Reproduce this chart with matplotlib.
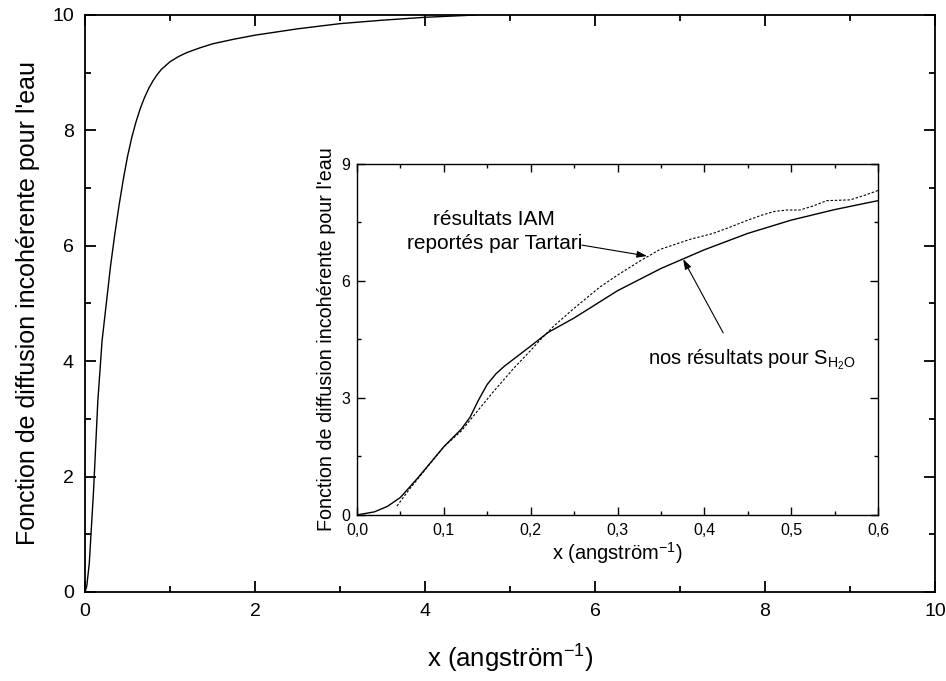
import matplotlib

matplotlib.use("Agg")
import matplotlib.pyplot as plt  # noqa: E402
from matplotlib.ticker import MultipleLocator, FuncFormatter  # noqa: E402

plt.rcParams["font.family"] = ["Liberation Sans", "DejaVu Sans"]
plt.rcParams["mathtext.fontset"] = "custom"
plt.rcParams["mathtext.rm"] = "Liberation Sans"
plt.rcParams["mathtext.it"] = "Liberation Sans"

# main curve: incoherent scattering function of water, 0..10 angstrom^-1
main_x = [0.0, 0.02, 0.05, 0.1, 0.15, 0.2, 0.25, 0.3, 0.35, 0.4, 0.45, 0.5, 0.55,
          0.6, 0.65, 0.7, 0.75, 0.8, 0.85, 0.9, 1.0, 1.1, 1.2, 1.35, 1.5, 1.75,
          2.0, 2.5, 3.0, 3.5, 4.0, 4.6]
main_y = [0.0, 0.1, 0.5, 1.75, 3.3, 4.35, 5.0, 5.65, 6.2, 6.7, 7.15, 7.55, 7.88,
          8.15, 8.38, 8.57, 8.73, 8.86, 8.97, 9.06, 9.19, 9.28, 9.35, 9.43, 9.5, 9.58,
          9.65, 9.76, 9.85, 9.91, 9.96, 10.0]

# inset: our results (solid)
ours_x = [0.0, 0.02, 0.035, 0.05, 0.07, 0.1, 0.12, 0.13, 0.14, 0.15, 0.16, 0.17,
          0.2, 0.22, 0.25, 0.3, 0.35, 0.4, 0.45, 0.5, 0.55, 0.6]
ours_y = [0.0, 0.08, 0.22, 0.45, 0.95, 1.75, 2.2, 2.5, 2.95, 3.35, 3.62, 3.82,
          4.33, 4.68, 5.05, 5.75, 6.32, 6.8, 7.22, 7.56, 7.83, 8.06]

# inset: IAM results reported by Tartari (dashed)
iam_x = [0.046, 0.06, 0.08, 0.1, 0.12, 0.14, 0.157, 0.18, 0.2, 0.211, 0.226, 0.25,
         0.28, 0.3, 0.325, 0.349, 0.384, 0.41, 0.426, 0.449, 0.465, 0.48, 0.495,
         0.51, 0.525, 0.541, 0.568, 0.585, 0.6]
iam_y = [0.23, 0.65, 1.2, 1.75, 2.15, 2.7, 3.16, 3.75, 4.22, 4.49, 4.83, 5.3,
         5.85, 6.15, 6.5, 6.81, 7.07, 7.22, 7.35, 7.55, 7.68, 7.78, 7.82,
         7.82, 7.92, 8.06, 8.08, 8.2, 8.32]

YLABEL = "Fonction de diffusion incohérente pour l'eau"
XLABEL = "x (angström$^{-1}$)"


def style_axes(ax, major, minor, width):
    for side in ax.spines.values():
        side.set_linewidth(width)
    ax.tick_params(which="both", direction="in", top=True, right=True, width=width)
    ax.tick_params(which="major", length=major)
    ax.tick_params(which="minor", length=minor)


fig = plt.figure(figsize=(9.46, 6.81), dpi=100)
ax = fig.add_axes([0.0899, 0.1307, 0.8985, 0.8473])
ax.plot(main_x, main_y, color="black", lw=1.0)
ax.set_xlim(0, 10)
ax.set_ylim(0, 10)
ax.xaxis.set_major_locator(MultipleLocator(2))
ax.xaxis.set_minor_locator(MultipleLocator(1))
ax.yaxis.set_major_locator(MultipleLocator(2))
ax.yaxis.set_minor_locator(MultipleLocator(1))
style_axes(ax, 8, 4.5, 1.3)
ax.tick_params(labelsize=14, pad=8)
ax.set_xlabel(XLABEL, fontsize=18.5, labelpad=16)
ax.set_ylabel(YLABEL, fontsize=18, labelpad=9)

ins = fig.add_axes([0.3774, 0.2438, 0.5507, 0.5154])
ins.plot(ours_x, ours_y, color="black", lw=1.0)
ins.plot(iam_x, iam_y, color="black", lw=0.8, linestyle=(0, (2.2, 1.6)))
ins.set_xlim(0, 0.6)
ins.set_ylim(0, 9)
ins.xaxis.set_major_locator(MultipleLocator(0.1))
ins.xaxis.set_minor_locator(MultipleLocator(0.05))
ins.yaxis.set_major_locator(MultipleLocator(3))
ins.yaxis.set_minor_locator(MultipleLocator(1.5))
ins.xaxis.set_major_formatter(FuncFormatter(lambda v, p: f"{v:.1f}".replace(".", ",")))
style_axes(ins, 5.5, 3, 1.0)
ins.tick_params(labelsize=11.5)
ins.tick_params(axis="x", pad=6)
ins.tick_params(axis="y", pad=5)
ins.set_xlabel(XLABEL, fontsize=14.5, labelpad=1)
ins.set_ylabel(YLABEL, fontsize=14.2, labelpad=4)

arrow = dict(arrowstyle="-|>,head_length=0.6,head_width=0.2", color="black", lw=0.8,
             shrinkA=0, shrinkB=0)
ins.text(0.158, 7.27, "résultats IAM\nreportés par Tartari", ha="center", va="center",
         fontsize=15, linespacing=1.3)
ins.annotate("", xy=(0.334, 6.64), xytext=(0.259, 6.92), arrowprops=arrow)
ins.text(0.335, 3.98, "nos résultats pour $\\mathrm{S_{H_2O}}$", ha="left",
         va="center", fontsize=14.5)
ins.annotate("", xy=(0.3756, 6.56), xytext=(0.4217, 4.67), arrowprops=arrow)

fig.savefig("out.png", dpi=100)
